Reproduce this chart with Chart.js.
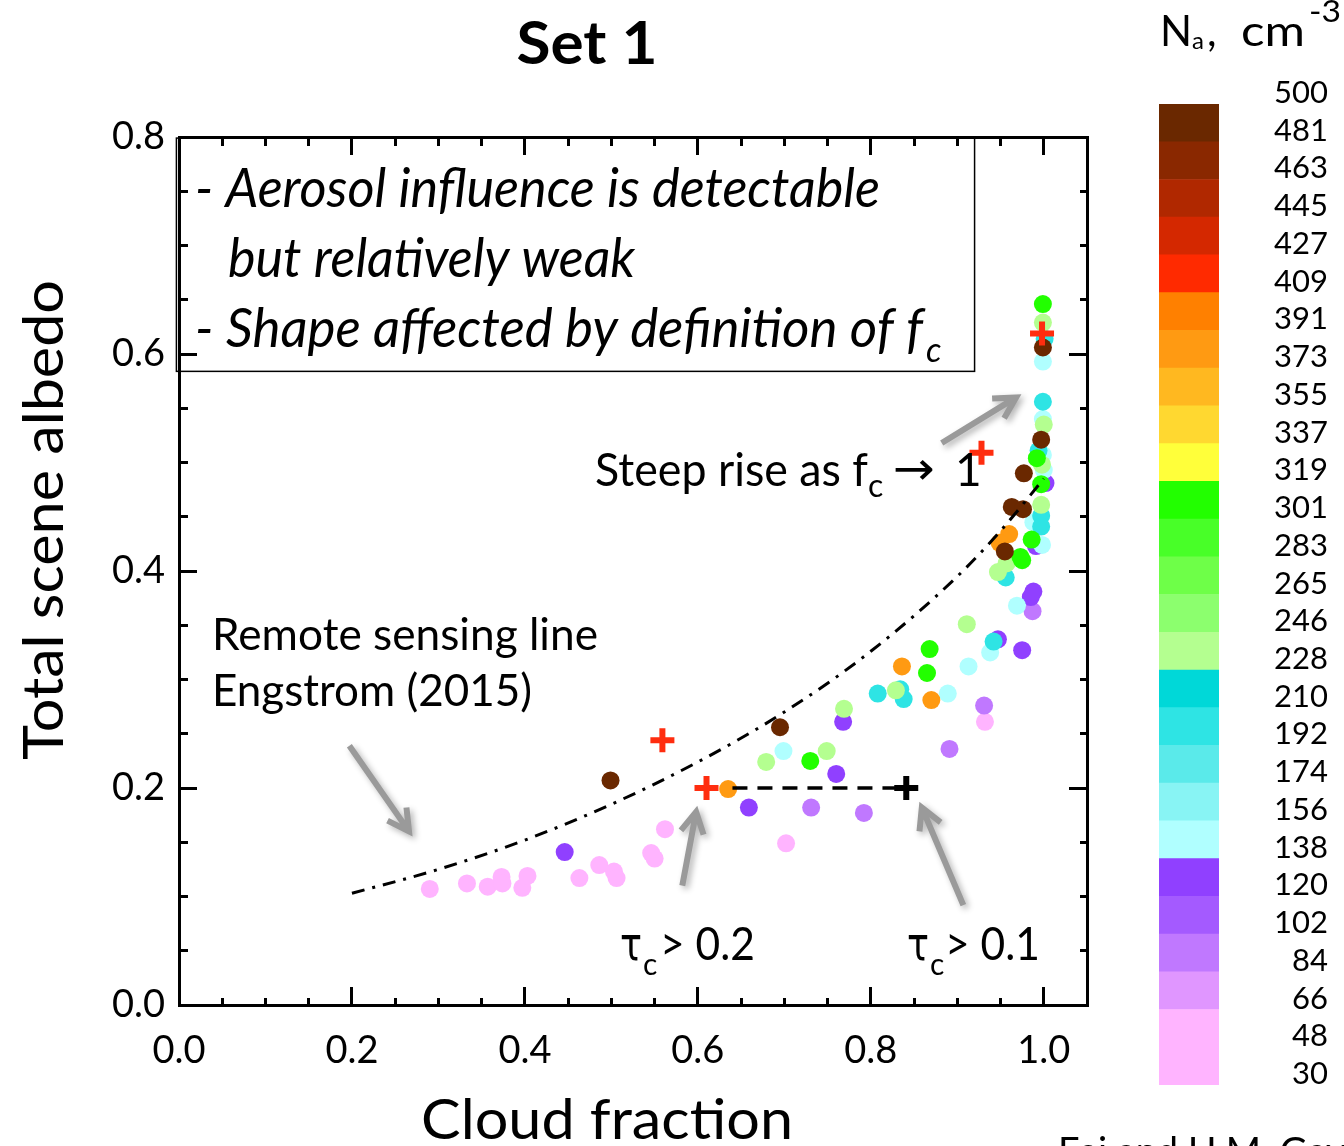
<!DOCTYPE html>
<html>
<head>
<meta charset="utf-8">
<script src="https://cdn.jsdelivr.net/npm/chart.js@4.4.1/dist/chart.umd.min.js"></script>
<style>
  html, body { margin: 0; padding: 0; background: #fff; overflow: hidden; }
  #wrap { position: relative; width: 1344px; height: 1146px; }
  #main { position: absolute; left: 0; top: 0; width: 1140px; height: 1146px; }
  #cbar { position: absolute; left: 1140px; top: 0; width: 204px; height: 1146px; }
  #credit { position: absolute; left: 1058px; top: 1127px; font: 38px Lato; white-space: nowrap; }
</style>
</head>
<body>
<div id="wrap">
  <canvas id="main" width="1140" height="1146"></canvas>
  <canvas id="cbar" width="204" height="1146"></canvas>
  <div id="credit">Fei and H.M. Gavril</div>
</div>
<script>
// Measurements: cloud fraction, total scene albedo, aerosol number (cm-3)
const cloudFraction = [
  0.290, 0.333, 0.357, 0.373, 0.374, 0.397, 0.403, 0.463, 0.486, 0.503, 0.506, 0.546, 0.550, 0.562, 0.702, 0.932,
  0.731, 0.792, 0.891, 0.931, 0.987,
  0.446, 0.659, 0.760, 0.768, 0.947, 0.975, 0.985, 0.988, 0.991, 1.002,
  0.699, 0.889, 0.913, 0.938, 0.969, 0.999, 0.999, 0.999, 1.000, 0.988, 0.998,
  0.808, 0.834, 0.838, 0.942, 0.956, 1.001, 0.999, 0.994, 0.997, 0.997,
  0.679, 0.749, 0.769, 0.829, 0.911, 0.947, 0.957, 0.999, 1.000, 0.998, 0.997,
  0.730, 0.868, 0.865, 0.975, 0.999, 0.997, 0.986, 0.973, 0.992,
  0.635, 0.836, 0.870, 0.960, 0.949,
  0.499, 0.695, 0.999, 0.997, 0.977, 0.963, 0.976, 0.955
];
const albedo = [
  0.107, 0.112, 0.109, 0.118, 0.112, 0.108, 0.119, 0.117, 0.129, 0.123, 0.117, 0.140, 0.135, 0.162, 0.149, 0.261,
  0.182, 0.177, 0.236, 0.276, 0.363,
  0.141, 0.182, 0.213, 0.261, 0.337, 0.327, 0.376, 0.381, 0.423, 0.481,
  0.234, 0.287, 0.312, 0.325, 0.368, 0.593, 0.540, 0.507, 0.493, 0.445, 0.424,
  0.287, 0.291, 0.282, 0.335, 0.394, 0.614, 0.556, 0.511, 0.451, 0.441,
  0.224, 0.234, 0.273, 0.290, 0.351, 0.399, 0.407, 0.629, 0.535, 0.498, 0.461,
  0.225, 0.328, 0.306, 0.410, 0.646, 0.480, 0.429, 0.413, 0.504,
  0.199, 0.312, 0.281, 0.434, 0.426,
  0.207, 0.256, 0.606, 0.521, 0.490, 0.459, 0.457, 0.418
];
const naConc = [
  40, 40, 40, 40, 40, 40, 40, 40, 40, 40, 40, 40, 40, 40, 40, 40,
  93, 93, 93, 93, 93,
  129, 129, 129, 129, 129, 129, 129, 129, 129, 129,
  147, 147, 147, 147, 147, 147, 147, 147, 147, 147, 147,
  200, 200, 200, 200, 200, 200, 200, 200, 200, 200,
  237, 237, 237, 237, 237, 237, 237, 237, 237, 237, 237,
  310, 310, 310, 310, 310, 310, 310, 310, 310,
  382, 382, 382, 382, 382,
  490, 490, 490, 490, 490, 490, 490, 490
];

// Red crosses and the black tau_c > 0.1 cross
const redCrossX = [0.610, 0.559, 0.928, 0.998];
const redCrossY = [0.200, 0.244, 0.509, 0.619];
const blackCrossX = [0.841];
const blackCrossY = [0.200];

// Dashed line between the two tau_c thresholds
const tauLineX = [0.64, 0.835];
const tauLineY = [0.200, 0.200];

// Remote sensing line, Engstrom (2015)
const remoteX = [0.20, 0.30, 0.40, 0.50, 0.60, 0.70, 0.80, 0.90, 0.95, 1.00];
const remoteY = [0.103, 0.125, 0.152, 0.185, 0.224, 0.270, 0.326, 0.395, 0.437, 0.485];

// Colour bar
const naTicks = [30, 48, 66, 84, 102, 120, 138, 156, 174, 192, 210, 228, 246, 265, 283, 301,
                 319, 337, 355, 373, 391, 409, 427, 445, 463, 481, 500];
const bandColors = ['#ffb4ff', '#ffb4ff', '#e096ff', '#c078ff', '#a45aff', '#9040ff',
                    '#b0ffff', '#88f4f4', '#5aeaea', '#2ee4e4', '#00d8d8',
                    '#b4ff90', '#8cff6e', '#6eff48', '#48ff28', '#22ff00',
                    '#ffff3a', '#ffd830', '#ffb820', '#ff9a12', '#ff8000',
                    '#ff2a00', '#d42800', '#b02800', '#8a2800', '#6a2800'];

function colorFor(n) {
  for (let i = 0; i < bandColors.length; i++) {
    if (n < naTicks[i + 1]) return bandColors[i];
  }
  return bandColors[bandColors.length - 1];
}
const toXY = (xs, ys) => xs.map((x, i) => ({ x: x, y: ys[i] }));

// Annotations (data units for things pointing into the plot, pixels for labels)
const noteBox = { x0: -0.003, x1: 0.920, y0: 0.584, y1: 0.799 };
const noteArrows = [
  { from: [0.882, 0.518], to: [0.968, 0.560] },
  { from: [0.197, 0.239], to: [0.266, 0.160] },
  { from: [0.582, 0.110], to: [0.598, 0.178] },
  { from: [0.907, 0.092], to: [0.859, 0.182] }
];
const noteTexts = [
  { text: 'Set 1', x: 587, y: 64, font: 'bold 60px Lato', width: 141, align: 'center' },
  { text: 'Total scene albedo', x: 63, y: 520, font: '56px Lato', width: 480, align: 'center', rot: -Math.PI / 2 },
  { text: 'Cloud fraction', x: 607, y: 1139, font: '56px Lato', width: 372, align: 'center' },
  { text: '- Aerosol influence is detectable', x: 195, y: 207, font: 'italic 55px Lato', width: 685 },
  { text: 'but relatively weak', x: 228, y: 277, font: 'italic 55px Lato', width: 407 },
  { text: '- Shape affected by definition of f', x: 195, y: 347, font: 'italic 55px Lato', width: 728 },
  { text: 'c', x: 926, y: 362, font: 'italic 34px Lato' },
  { text: 'Steep rise as f', x: 595, y: 486, font: '46px Lato', width: 273 },
  { text: 'c', x: 868, y: 497, font: '32px Lato' },
  { text: '\u2192', x: 893, y: 484, font: '46px "DejaVu Sans"', width: 42 },
  { text: '1', x: 955, y: 486, font: '46px Lato' },
  { text: 'Remote sensing line', x: 212, y: 650, font: '44px Lato', width: 386 },
  { text: 'Engstrom (2015)', x: 212, y: 706, font: '44px Lato', width: 320 },
  { text: '\u03c4', x: 620, y: 960, font: '46px "DejaVu Sans"', width: 22 },
  { text: 'c', x: 643, y: 975, font: '30px Lato' },
  { text: '> 0.2', x: 660, y: 960, font: '46px Lato', width: 95 },
  { text: '\u03c4', x: 907, y: 960, font: '46px "DejaVu Sans"', width: 22 },
  { text: 'c', x: 930, y: 975, font: '30px Lato' },
  { text: '> 0.1', x: 945, y: 960, font: '46px Lato', width: 95 }
];

function drawText(ctx, t) {
  ctx.save();
  ctx.font = t.font;
  ctx.fillStyle = '#000';
  ctx.textAlign = t.align || 'left';
  ctx.textBaseline = 'alphabetic';
  ctx.translate(t.x, t.y);
  if (t.rot) ctx.rotate(t.rot);
  if (t.width) ctx.scale(t.width / ctx.measureText(t.text).width, 1);
  ctx.fillText(t.text, 0, 0);
  ctx.restore();
}

function drawArrow(ctx, x0, y0, x1, y1) {
  const a = Math.atan2(y1 - y0, x1 - x0), h = 24, s = 0.5;
  ctx.beginPath();
  ctx.moveTo(x0, y0);
  ctx.lineTo(x1, y1);
  ctx.moveTo(x1 - h * Math.cos(a - s), y1 - h * Math.sin(a - s));
  ctx.lineTo(x1, y1);
  ctx.lineTo(x1 - h * Math.cos(a + s), y1 - h * Math.sin(a + s));
  ctx.stroke();
}

const annotations = {
  id: 'annotations',
  afterDraw(chart) {
    const ctx = chart.ctx, sx = chart.scales.x, sy = chart.scales.y;
    // text box
    ctx.save();
    ctx.strokeStyle = '#000';
    ctx.lineWidth = 1.5;
    const bx = sx.getPixelForValue(noteBox.x0), by = sy.getPixelForValue(noteBox.y1);
    ctx.strokeRect(bx, by, sx.getPixelForValue(noteBox.x1) - bx, sy.getPixelForValue(noteBox.y0) - by);
    ctx.restore();
    // grey arrows
    ctx.save();
    ctx.strokeStyle = '#9a9a9a';
    ctx.lineWidth = 6;
    ctx.lineJoin = 'miter';
    ctx.shadowColor = 'rgba(0,0,0,0.3)';
    ctx.shadowBlur = 6;
    ctx.shadowOffsetX = 3;
    ctx.shadowOffsetY = 3;
    noteArrows.forEach(a => drawArrow(ctx,
      sx.getPixelForValue(a.from[0]), sy.getPixelForValue(a.from[1]),
      sx.getPixelForValue(a.to[0]), sy.getPixelForValue(a.to[1])));
    ctx.restore();
    noteTexts.forEach(t => drawText(ctx, t));
  }
};

// minor ticks every 0.05, major (labelled) every 0.2
const isMajor = v => Math.round(v * 100) % 20 === 0;
function tickGrid(startsInside) {
  return {
    drawOnChartArea: false,
    drawTicks: true,
    tickLength: -18,
    tickWidth: 3,
    tickColor: '#000',
    tickBorderDash: c => (c.tick && isMajor(c.tick.value)) ? [] : [9, 40],
    tickBorderDashOffset: c => (c.tick && isMajor(c.tick.value)) ? 0 : (startsInside ? -9 : 0)
  };
}
const tickFont = { family: 'Lato', size: 38 };
const axisBorder = { display: true, width: 3, color: '#000' };

new Chart(document.getElementById('main'), {
  type: 'scatter',
  data: {
    datasets: [
      {
        data: toXY(blackCrossX, blackCrossY),
        pointStyle: 'cross', pointRadius: 12, borderWidth: 6, borderColor: '#000'
      },
      {
        data: toXY(redCrossX, redCrossY),
        pointStyle: 'cross', pointRadius: 12, borderWidth: 6, borderColor: '#ff2d0f'
      },
      {
        data: toXY(tauLineX, tauLineY),
        showLine: true, pointRadius: 0, borderColor: '#000', borderWidth: 3.5, borderDash: [15, 10]
      },
      {
        data: toXY(remoteX, remoteY),
        showLine: true, pointRadius: 0, borderColor: '#000', borderWidth: 3,
        borderDash: [13, 8, 3, 8], cubicInterpolationMode: 'monotone'
      },
      {
        data: toXY(cloudFraction, albedo),
        backgroundColor: naConc.map(colorFor),
        pointRadius: 9, borderWidth: 0
      }
    ]
  },
  options: {
    responsive: false,
    animation: false,
    devicePixelRatio: 1,
    layout: { padding: { left: 79, right: 53, top: 137, bottom: 41 } },
    plugins: { legend: { display: false }, tooltip: { enabled: false } },
    scales: {
      x: {
        type: 'linear', position: 'bottom', min: 0, max: 1.05,
        grid: tickGrid(false), border: axisBorder,
        ticks: {
          stepSize: 0.05, autoSkip: false, maxRotation: 0, padding: 41, color: '#000', font: tickFont,
          callback: v => isMajor(v) ? v.toFixed(1) : ''
        },
        afterFit: s => { s.height = 100; }
      },
      x2: {
        type: 'linear', position: 'top', min: 0, max: 1.05,
        grid: tickGrid(true), border: axisBorder,
        ticks: { stepSize: 0.05, display: false },
        afterFit: s => { s.height = 0; }
      },
      y: {
        type: 'linear', position: 'left', min: 0, max: 0.8,
        grid: tickGrid(true), border: axisBorder,
        ticks: {
          stepSize: 0.05, autoSkip: false, padding: 32, color: '#000', font: tickFont,
          callback: v => isMajor(v) ? v.toFixed(1) : ''
        },
        afterFit: s => { s.width = 100; }
      },
      y2: {
        type: 'linear', position: 'right', min: 0, max: 0.8,
        grid: tickGrid(false), border: axisBorder,
        ticks: { stepSize: 0.05, display: false },
        afterFit: s => { s.width = 0; }
      }
    }
  },
  plugins: [annotations]
});

// Colour bar title N_a, cm^-3
const cbarTitle = {
  id: 'cbarTitle',
  afterDraw(chart) {
    const ctx = chart.ctx;
    [
      { text: 'N', x: 20, y: 46, font: '42px Lato' },
      { text: 'a', x: 52, y: 49, font: '24px Lato' },
      { text: ',', x: 67, y: 46, font: '42px Lato' },
      { text: 'cm', x: 101, y: 46, font: '42px Lato', width: 64 },
      { text: '-3', x: 169, y: 22, font: '30px Lato', width: 32 }
    ].forEach(t => drawText(ctx, t));
  }
};

new Chart(document.getElementById('cbar'), {
  type: 'bar',
  data: {
    labels: [''],
    datasets: bandColors.map(c => ({
      data: [1], backgroundColor: c, borderWidth: 0, barPercentage: 1, categoryPercentage: 1
    }))
  },
  options: {
    responsive: false,
    animation: false,
    devicePixelRatio: 1,
    layout: { padding: { left: 19, right: 16, top: 104, bottom: 61 } },
    plugins: { legend: { display: false }, tooltip: { enabled: false } },
    scales: {
      x: { stacked: true, display: false },
      y: {
        stacked: true, position: 'right', min: 0, max: naTicks.length - 1,
        grid: { display: false, drawTicks: false }, border: { display: false },
        ticks: {
          stepSize: 1, autoSkip: false, padding: 41, crossAlign: 'far', labelOffset: -11,
          color: '#000', font: { family: 'Lato', size: 31 },
          callback: v => naTicks[Math.round(v)]
        },
        afterFit: s => { s.width = 109; s.paddingTop = 0; s.paddingBottom = 0; }
      }
    }
  },
  plugins: [cbarTitle]
});
</script>
</body>
</html>
